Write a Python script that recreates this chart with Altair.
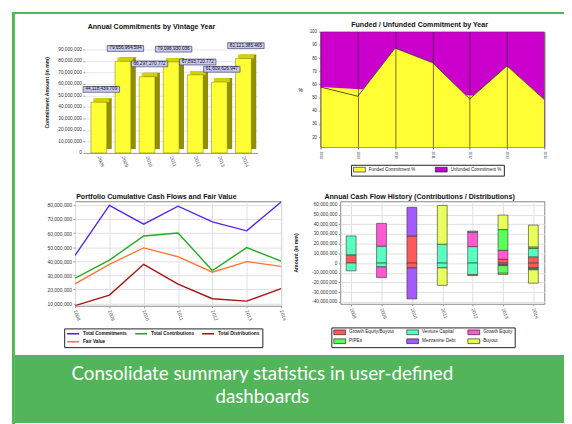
import altair as alt
import pandas as pd

FONT = "Liberation Sans"
GREEN = "#52b55a"

years = ["2008", "2009", "2010", "2011", "2012", "2013", "2014"]

# Panel 1: Annual Commitments by Vintage Year
commitments = [44118439.709, 79656964.594, 66297270.772, 79096930.036,
               67893720.772, 61609626.947, 82121385.465]
commitment_labels = ["44,118,439.709", "79,656,964.594", "66,297,270.772",
                     "79,096,930.036", "67,893,720.772", "61,609,626.947",
                     "82,121,385.465"]
commit_ticks = [0, 10000000, 20000000, 30000000, 40000000, 50000000,
                60000000, 70000000, 80000000, 90000000]

# Panel 2: Funded / Unfunded
funded_pct = [58, 51, 87.5, 76.5, 49, 74, 48.5]
unfunded_pct = [42, 49, 12.5, 23.5, 51, 26, 51.5]
pct_ticks = [20, 30, 40, 50, 60, 70, 80, 90, 100]
funded_types = ["Funded Commitment %", "Unfunded Commitment %"]
funded_colors = ["#ffff33", "#cc00cc"]

# Panel 3: cumulative cash flows
total_contributions = [28000000, 40800000, 57900000, 60000000, 33400000, 49700000, 40100000]
total_distributions = [8500000, 16000000, 37800000, 23800000, 13400000, 11700000, 20500000]
fair_value = [24000000, 37800000, 49500000, 43200000, 32200000, 39700000, 36400000]
flow_series = ["Total Commitments", "Total Contributions", "Total Distributions", "Fair Value"]
flow_colors = ["#5522ee", "#22aa22", "#aa1111", "#ff7733"]
flow_ticks = [10000000, 20000000, 30000000, 40000000, 50000000, 60000000, 70000000, 80000000]

# Panel 4: annual cash flow history
strategies = ["Growth Equity/Buyout", "Venture Capital", "Growth Equity",
              "PIPEs", "Mezzanine Debt", "Buyout"]
strategy_colors = ["#ff5a5a", "#5affc0", "#ff5ad2", "#5aff5a", "#a55aff", "#e8ff5a"]
contrib_ge_buyout = [8500000, 0, 28000000, 0, 0, 4000000, 6500000]
contrib_venture = [19500000, 17500000, 0, 19500000, 17000000, 0, 8500000]
contrib_growth = [0, 23500000, 0, 0, 15000000, 9200000, 0]
contrib_pipes = [0, 0, 0, 0, 1000000, 21400000, 1700000]
contrib_mezz = [0, 0, 29500000, 0, 0, 0, 0]
contrib_buyout = [0, 0, 0, 40000000, 0, 14900000, 22500000]
distrib_ge_buyout = [0, 0, -5000000, 0, 0, -1500000, -5000000]
distrib_venture = [-8000000, -4000000, 0, -5000000, -12000000, 0, -1000000]
distrib_growth = [0, -11000000, 0, 0, 0, -1200000, 0]
distrib_pipes = [0, 0, 0, 0, -1000000, -7800000, -1000000]
distrib_mezz = [0, 0, -32000000, 0, 0, 0, 0]
distrib_buyout = [0, 0, 0, -18000000, 0, -1300000, -13700000]
cash_ticks = [-40000000, -30000000, -20000000, -10000000, 0, 10000000,
              20000000, 30000000, 40000000, 50000000, 60000000]

caption_lines = ["Consolidate summary statistics in user-defined", "dashboards"]

MINUS_FIX = "replace(format(datum.value, ',d'), '\u2212', '-')"
SWATCH = "M-3,-1.2L3,-1.2L3,1.2L-3,1.2Z"
LINE_SWATCH = "M-3,0L3,0"


def spacer(w, h):
    return alt.Chart(pd.DataFrame({"s": [0]})).mark_point(opacity=0, size=0).encode(
        x=alt.value(0), y=alt.value(0)).properties(width=w, height=h)


def green_block(w, h):
    return alt.Chart(pd.DataFrame({"s": [0]})).mark_point(opacity=0, size=0).encode(
        x=alt.value(0), y=alt.value(0)).properties(
        width=w, height=h, view=alt.ViewBackground(fill=GREEN, strokeWidth=0))


def ttl(text, dx, offset):
    return alt.TitleParams(text, font=FONT, fontSize=7.2, fontWeight="bold",
                           color="#111", anchor="middle", frame="group",
                           dx=dx, offset=offset)


# ---------- Panel 1 ----------
df1 = pd.DataFrame({"year": years, "commit": commitments, "label": commitment_labels})
x1 = alt.X("year:O", scale=alt.Scale(type="point", padding=0.58),
           axis=alt.Axis(title=None, labelAngle=70, labelFont=FONT, labelFontSize=5,
                         labelColor="#555", ticks=False, domainColor="#999",
                         labelPadding=3))
y1 = alt.Y("commit:Q", scale=alt.Scale(domain=[0, 105400000], nice=False),
           axis=alt.Axis(title="Commitment Amount (in mm)", values=commit_ticks,
                         format=",d", labelFont=FONT, labelFontSize=4.8,
                         labelColor="#333", tickSize=2, tickColor="#999",
                         domain=False, gridColor="#d8d8d8", gridWidth=0.6,
                         titleFont=FONT, titleFontSize=5.2, titleFontWeight="bold",
                         titleColor="#222", titlePadding=8, labelPadding=1.5,
                         labelOverlap=False))
b1 = alt.Chart(df1)
side = b1.mark_bar(size=16, color="#8f8f00", xOffset=5, yOffset=-4, y2Offset=-4).encode(x=x1, y=y1)
top = b1.mark_bar(size=16, color="#d2d200", xOffset=2.5, yOffset=-4, y2Offset=0).encode(
    x=x1, y=y1, y2=alt.Y2("commit:Q"))
front = b1.mark_bar(size=16, color="#ffff33", stroke="#7a7a00", strokeWidth=0.5).encode(x=x1, y=y1)
boxes = b1.mark_point(shape="M-1,-0.16L1,-0.16L1,0.16L-1,0.16Z", size=1369, filled=True,
                      fill="#c9c9f2", stroke="#2a2a55", strokeWidth=0.6, opacity=1,
                      xOffset=2.5, yOffset=-13).encode(x=x1, y=y1)
texts = b1.mark_text(font=FONT, fontSize=4.7, color="#111", xOffset=2.5, yOffset=-13,
                     baseline="middle").encode(x=x1, y=y1, text="label:N")
p1 = alt.layer(side, top, front, boxes, texts).properties(
    width=175, height=123, title=ttl("Annual Commitments by Vintage Year", -20, 2))

# ---------- Panel 2 ----------
rows2 = []
for i, y in enumerate(years):
    rows2.append({"year": y, "type": funded_types[0], "pct": funded_pct[i], "ord": 0})
    rows2.append({"year": y, "type": funded_types[1], "pct": unfunded_pct[i], "ord": 1})
df2 = pd.DataFrame(rows2)
x2 = alt.X("year:O", scale=alt.Scale(type="point", padding=0),
           axis=alt.Axis(title=None, labelAngle=90, labelFont=FONT, labelFontSize=3.4,
                         labelColor="#555", grid=True, gridColor="#330033",
                         gridOpacity=0.6, gridWidth=1, zindex=1, tickSize=2,
                         tickColor="#777", domain=False, labelPadding=2))
y2 = alt.Y("pct:Q", stack="zero", scale=alt.Scale(domain=[12.5, 100], nice=False, zero=False),
           axis=alt.Axis(title="%", titleAngle=0, titleAlign="center", titleBaseline="middle",
                         titleFont=FONT, titleFontSize=5, titleFontWeight="normal",
                         titlePadding=9, values=pct_ticks, labelFont=FONT,
                         labelFontSize=4.5, labelColor="#333", grid=False, tickSize=2,
                         tickColor="#999", domainColor="#999", labelOverlap=False))
p2 = alt.Chart(df2).mark_area(clip=True, opacity=1, fillOpacity=1,
                              line=alt.OverlayMarkDef(color="#333", strokeWidth=0.8)).encode(
    x=x2, y=y2,
    fill=alt.Fill("type:N", scale=alt.Scale(domain=funded_types, range=funded_colors),
                  legend=alt.Legend(title=None, orient="none", legendX=31, legendY=135,
                                    direction="horizontal", symbolType=SWATCH,
                                    symbolSize=16, symbolStrokeColor="#111",
                                    symbolStrokeWidth=0.6, symbolOffset=4,
                                    labelFont=FONT, labelFontSize=4.5, labelColor="#222",
                                    strokeColor="#222", fillColor="white", padding=2,
                                    columnPadding=18, labelOffset=7)),
    order=alt.Order("ord:Q")).properties(
    width=227, height=117, title=ttl("Funded / Unfunded Commitment by Year", -13, 1),
    view=alt.ViewBackground(stroke="#999", strokeWidth=1))

# ---------- Panel 3 ----------
rows3 = []
for s, vals in zip(flow_series, [commitments, total_contributions, total_distributions, fair_value]):
    for i, y in enumerate(years):
        rows3.append({"year": y, "series": s, "value": vals[i]})
df3 = pd.DataFrame(rows3)
x3 = alt.X("year:O", scale=alt.Scale(type="point", padding=0),
           axis=alt.Axis(title=None, labelAngle=70, labelFont=FONT, labelFontSize=5,
                         labelColor="#555", grid=True, gridColor="#e0e0e0",
                         tickSize=2, tickColor="#999", domain=False, labelPadding=2))
y3 = alt.Y("value:Q", scale=alt.Scale(domain=[8400000, 82600000], nice=False, zero=False),
           axis=alt.Axis(title=None, values=flow_ticks, format=",d", labelFont=FONT,
                         labelFontSize=5, labelColor="#333", gridColor="#e0e0e0",
                         tickSize=2, tickColor="#999", domain=False, labelPadding=1.5,
                         labelOverlap=False))
p3 = alt.Chart(df3).mark_line(strokeWidth=1.4, clip=True).encode(
    x=x3, y=y3,
    color=alt.Color("series:N", scale=alt.Scale(domain=flow_series, range=flow_colors),
                    legend=alt.Legend(title=None, orient="none", legendX=-11, legendY=129,
                                      direction="horizontal", columns=3,
                                      symbolType=LINE_SWATCH, symbolSize=16,
                                      symbolStrokeWidth=1.6, symbolOffset=4,
                                      labelFont=FONT, labelFontSize=4.8,
                                      labelFontWeight="bold", labelColor="#111",
                                      strokeColor="#222", fillColor="white", padding=2,
                                      columnPadding=4, rowPadding=0.5,
                                      labelOffset=7))).properties(
    width=209, height=106, title=ttl("Portfolio Cumulative Cash Flows and Fair Value", -22, 1),
    view=alt.ViewBackground(stroke="#888", strokeWidth=1))

# ---------- Panel 4 ----------
contrib_sets = [contrib_ge_buyout, contrib_venture, contrib_growth, contrib_pipes,
                contrib_mezz, contrib_buyout]
distrib_sets = [distrib_ge_buyout, distrib_venture, distrib_growth, distrib_pipes,
                distrib_mezz, distrib_buyout]
rows4 = []
for r, s in enumerate(strategies):
    for i, y in enumerate(years):
        for v in (contrib_sets[r][i], distrib_sets[r][i]):
            if v != 0:
                rows4.append({"year": y, "strategy": s, "amount": v, "rank": r})
df4 = pd.DataFrame(rows4)
x4 = alt.X("year:O", scale=alt.Scale(type="point", padding=0.36),
           axis=alt.Axis(title=None, labelAngle=70, labelFont=FONT, labelFontSize=5,
                         labelColor="#555", grid=True, gridColor="#e0e0e0",
                         tickSize=2, tickColor="#999", domain=False, labelPadding=2))
y4 = alt.Y("amount:Q", stack="zero",
           scale=alt.Scale(domain=[-42000000, 63800000], nice=False),
           axis=alt.Axis(title="Amount (in mm)", values=cash_ticks, labelExpr=MINUS_FIX,
                         labelFont=FONT, labelFontSize=4.8, labelColor="#333",
                         gridColor="#e0e0e0", tickSize=2, tickColor="#999", domain=False,
                         titleFont=FONT, titleFontSize=5.2, titleFontWeight="bold",
                         titleColor="#222", titlePadding=13, labelPadding=1.5,
                         labelOverlap=False))
p4 = alt.Chart(df4).mark_bar(size=10, stroke="#333", strokeWidth=0.6).encode(
    x=x4, y=y4,
    fill=alt.Fill("strategy:N", scale=alt.Scale(domain=strategies, range=strategy_colors),
                  legend=alt.Legend(title=None, orient="none", legendX=-9, legendY=128,
                                    direction="horizontal", columns=3,
                                    symbolType=SWATCH, symbolSize=16, symbolOffset=4,
                                    symbolStrokeColor="#111", symbolStrokeWidth=0.6,
                                    labelFont=FONT, labelFontSize=4.7, labelColor="#222",
                                    strokeColor="#222", fillColor="white", padding=2,
                                    columnPadding=11, rowPadding=0.5, labelOffset=7)),
    order=alt.Order("rank:Q")).properties(
    width=207, height=104,
    title=ttl("Annual Cash Flow History (Contributions / Distributions)", -23, 1),
    view=alt.ViewBackground(stroke="#888", strokeWidth=1))

# ---------- Caption band ----------
band = alt.Chart(pd.DataFrame({"t": ["\n".join(caption_lines)]})).mark_text(
    font="Lato", fontSize=19, color="white", lineBreak="\n", lineHeight=23,
    align="center", baseline="middle").encode(
    text="t:N", x=alt.value(251), y=alt.value(19.5)).properties(
    width=557, height=69, view=alt.ViewBackground(fill=GREEN, strokeWidth=0))


def indep(c):
    return c.resolve_scale(color="independent", fill="independent").resolve_legend(
        color="independent", fill="independent")


row1 = indep(alt.hconcat(spacer(30, 1), p1, spacer(31, 1), p2, spacing=0))
row2 = indep(alt.hconcat(spacer(31, 1), p3, spacer(5, 1), p4, spacing=0))
col = indep(alt.vconcat(green_block(557, 2), spacer(557, 6), row1, spacer(557, 16), row2,
                        spacer(557, 7), band, spacing=0))
chart = indep(alt.hconcat(green_block(3, 420), col, spacing=0)).properties(
    padding={"left": 4, "top": 1, "right": 0, "bottom": 0}
).configure(background="white").configure_view(strokeWidth=0)

chart.save("out.html", embed_options={"renderer": "svg", "actions": False})
